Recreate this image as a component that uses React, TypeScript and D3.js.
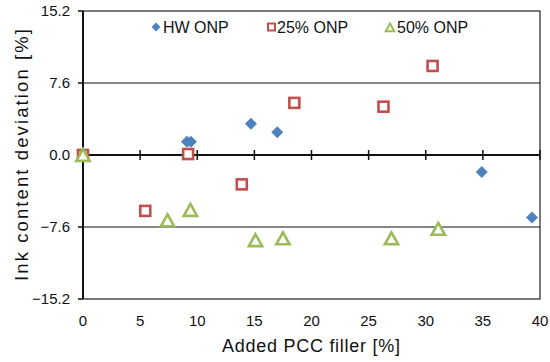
import React from "react";
import * as d3 from "d3";

const hwOnpX = [0, 9.1, 9.45, 14.7, 17.0, 34.9, 39.3];
const hwOnpY = [0, 1.4, 1.4, 3.3, 2.4, -1.8, -6.6];
const onp25X = [0, 5.45, 9.2, 13.9, 18.5, 26.3, 30.6];
const onp25Y = [0, -5.9, 0.1, -3.1, 5.5, 5.1, 9.4];
const onp50X = [0, 7.4, 9.4, 15.1, 17.5, 27.0, 31.1];
const onp50Y = [0, -6.9, -5.8, -9.0, -8.8, -8.8, -7.8];

const xTicks = [0, 5, 10, 15, 20, 25, 30, 35, 40];
const yTicks = [-15.2, -7.6, 0, 7.6, 15.2];

const BLUE = "#4F81BD";
const RED = "#C0504D";
const GREEN = "#9BBB59";
const FONT = "'Liberation Sans', Arial, sans-serif";

const W = 550;
const H = 362;
const left = 83;
const right = 540;
const top = 11;
const bottom = 299;

const x = d3.scaleLinear().domain([0, 40]).range([left, right]);
const y = d3.scaleLinear().domain([-15.2, 15.2]).range([bottom, top]);

const diamond = (cx: number, cy: number, r: number) =>
  `M${cx},${cy - r}L${cx + r},${cy}L${cx},${cy + r}L${cx - r},${cy}Z`;
const triangle = (cx: number, cy: number, r: number) =>
  `M${cx},${cy - r}L${cx + r * 0.95},${cy + r * 0.7}L${cx - r * 0.95},${cy + r * 0.7}Z`;

const zip = (xs: number[], ys: number[]) => xs.map((v, i) => [v, ys[i]] as [number, number]);

export default function App() {
  const fmt = d3.format(".1f");
  return (
    <svg width={W} height={H} style={{ position: "absolute", left: 0, top: 0, background: "#fff" }}>
      <rect x={0} y={0} width={W} height={H} fill="#fff" />
      {/* frame */}
      <rect x={left} y={top} width={right - left} height={bottom - top} fill="none" stroke="#222" strokeWidth={1.2} />
      {/* gridlines */}
      {yTicks.filter((t) => Math.abs(t) === 7.6).map((t) => (
        <line key={t} x1={left} x2={right} y1={y(t)} y2={y(t)} stroke="#111" strokeWidth={1.2} />
      ))}
      {/* y axis */}
      <line x1={left} x2={left} y1={top} y2={bottom} stroke="#111" strokeWidth={2} />
      {yTicks.map((t) => (
        <g key={t}>
          <line x1={left - 5} x2={left} y1={y(t)} y2={y(t)} stroke="#111" strokeWidth={1.5} />
          <text x={70} y={y(t)} dy="0.36em" textAnchor="end" fontFamily={FONT} fontSize={15} fill="#111">
            {fmt(t)}
          </text>
        </g>
      ))}
      {/* x axis at zero */}
      <line x1={left} x2={right} y1={y(0)} y2={y(0)} stroke="#111" strokeWidth={2} />
      {xTicks.map((t) => (
        <g key={t}>
          <line x1={x(t)} x2={x(t)} y1={y(0) - 5} y2={y(0) + 5} stroke="#111" strokeWidth={1.5} />
          <text x={x(t)} y={326} textAnchor="middle" fontFamily={FONT} fontSize={15} fill="#111">
            {t}
          </text>
        </g>
      ))}
      {/* axis titles */}
      <text
        x={311}
        y={352}
        textAnchor="middle"
        fontFamily={FONT}
        fontSize={18}
        fill="#111"
        textLength={178}
        lengthAdjust="spacing"
      >
        Added PCC filler [%]
      </text>
      <text
        transform={`translate(28,${(top + bottom) / 2}) rotate(-90)`}
        textAnchor="middle"
        fontFamily={FONT}
        fontSize={18.5}
        fill="#111"
        textLength={252}
        lengthAdjust="spacing"
      >
        Ink content deviation [%]
      </text>
      {/* series */}
      {zip(hwOnpX, hwOnpY).map(([a, b], i) => (
        <path key={"h" + i} d={diamond(x(a), y(b), 6)} fill={BLUE} />
      ))}
      {zip(onp25X, onp25Y).map(([a, b], i) => (
        <rect key={"r" + i} x={x(a) - 5} y={y(b) - 5} width={10} height={10} fill="#fff" stroke={RED} strokeWidth={2.6} />
      ))}
      {zip(onp50X, onp50Y).map(([a, b], i) => (
        <path key={"g" + i} d={triangle(x(a), y(b) + 1, 7)} fill="#fff" stroke={GREEN} strokeWidth={2.6} strokeLinejoin="miter" />
      ))}
      {/* legend */}
      <path d={diamond(156, 27, 4.5)} fill={BLUE} />
      <text x={163} y={27} dy="0.36em" fontFamily={FONT} fontSize={16} fill="#111">HW ONP</text>
      <rect x={268} y={23.5} width={7} height={7} fill="#fff" stroke={RED} strokeWidth={2} />
      <text x={277} y={27} dy="0.36em" fontFamily={FONT} fontSize={16} fill="#111">25% ONP</text>
      <path d={triangle(390, 28, 4.5)} fill="#fff" stroke={GREEN} strokeWidth={2} />
      <text x={397} y={27} dy="0.36em" fontFamily={FONT} fontSize={16} fill="#111">50% ONP</text>
    </svg>
  );
}
